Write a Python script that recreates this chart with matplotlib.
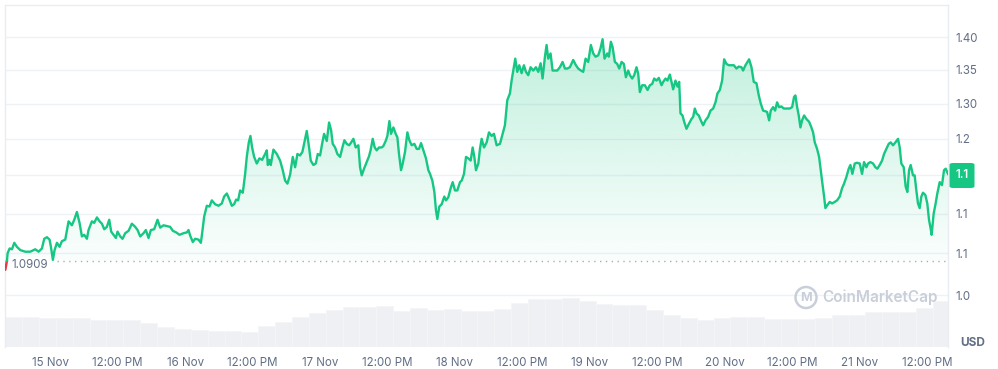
import numpy as np
import matplotlib
matplotlib.use("Agg")
import matplotlib.pyplot as plt
from matplotlib.patches import FancyBboxPatch, Circle, Polygon
from matplotlib.ticker import FixedLocator, FixedFormatter, NullLocator

# ---------------- data (hours since 15 Nov 00:00, price in USD) ----------------
hours = [
    -8.00, -7.70,
    -7.59, -7.23, -6.81, -6.40, -5.93, -5.33, -4.44, -3.56, -2.96, -2.67,
    -2.07, -1.48, -1.07, -0.59, -0.12, 0.12, 0.47, 0.77, 1.19, 1.66,
    2.07, 2.67, 3.26, 3.85, 4.27, 4.74, 5.21, 5.63, 6.04, 6.52,
    6.81, 7.41, 7.82, 8.30, 8.77, 9.19, 9.60, 10.07, 10.49, 10.84,
    11.26, 11.67, 11.97, 12.44, 12.86, 13.33, 13.93, 14.52, 15.11, 15.53,
    16.00, 16.59, 17.01, 17.48, 17.90, 18.49, 19.08, 19.56, 20.15, 20.74,
    21.33, 21.81, 22.40, 22.99, 23.70, 24.30, 24.59, 24.89, 25.36, 25.78,
    26.37, 26.79, 27.02, 27.38, 27.85, 28.33, 28.74, 29.33, 29.93, 30.52,
    30.93, 31.41, 31.88, 32.30, 32.71, 33.07, 33.42, 33.78, 34.25, 34.67,
    34.96, 35.32, 35.61, 35.91, 36.27, 36.74, 37.21, 37.69, 38.22, 38.52,
    38.70, 38.99, 39.23, 39.70, 40.30, 40.89, 41.36, 41.78, 42.19, 42.67,
    43.14, 43.56, 43.97, 44.44, 44.86, 45.21, 45.63, 46.04, 46.34, 46.81,
    47.23, 47.59, 48.00, 48.36, 48.71, 49.19, 49.60, 49.96, 50.25, 50.67,
    51.08, 51.56, 51.97, 52.33, 52.74, 53.16, 53.45, 53.93, 54.34, 54.81,
    55.11, 55.41, 55.82, 56.30, 56.71, 57.01, 57.36, 57.72, 58.07, 58.49,
    58.96, 59.26, 59.67, 59.97, 60.33, 60.62, 61.04, 61.45, 61.75, 62.04,
    62.40, 62.70, 63.11, 63.53, 63.88, 64.30, 64.77, 65.19, 65.60, 65.96,
    66.37, 66.84, 67.26, 67.56, 67.97, 68.33, 68.62, 68.86, 69.21, 69.63,
    70.10, 70.40, 70.81, 71.23, 71.59, 72.00, 72.41, 72.89, 73.19, 73.60,
    73.96, 74.37, 74.79, 75.14, 75.44, 75.73, 76.15, 76.44, 76.74, 77.16,
    77.63, 78.04, 78.52, 78.93, 79.41, 80.00,
    80.47, 80.88, 81.30, 81.77, 82.07, 82.37, 82.72, 83.08, 83.43, 83.85,
    84.26, 84.62, 85.03, 85.45, 85.92, 86.40, 86.81, 87.23, 87.58, 88.00,
    88.29, 88.59, 89.00, 89.36, 89.77, 90.19, 90.66, 91.14, 91.55, 91.97,
    92.44, 93.03, 93.51, 93.92, 94.40, 94.81, 95.23, 95.70, 96.17, 96.59,
    97.00, 97.48, 97.89, 98.25, 98.60, 99.08, 99.37, 99.73, 100.03, 100.44,
    100.86, 101.21, 101.63, 102.04, 102.40, 102.81, 103.11, 103.52, 103.88, 104.29,
    104.59, 104.88, 105.30, 105.77, 106.25, 106.66, 107.08, 107.43, 107.85, 108.26,
    108.74, 109.03, 109.45, 109.80, 110.22, 110.51, 110.81, 111.22, 111.58, 111.88,
    112.11, 112.47, 112.77, 113.18, 113.60, 114.07, 114.37, 114.66, 114.96, 115.37,
    115.73, 116.14, 116.56, 117.03, 117.45, 117.92, 118.34, 118.69, 119.11, 119.52,
    119.88, 120.29, 120.71, 121.18, 121.60, 122.07, 122.48, 122.96, 123.25, 123.67,
    124.03, 124.32, 124.74, 125.15, 125.63, 126.04, 126.40, 126.81, 127.23, 127.52,
    127.88, 128.17, 128.59, 128.94, 129.30, 129.65, 130.07, 130.48, 130.96, 131.55,
    131.97, 132.32, 132.56, 132.86, 133.15, 133.45, 133.74, 134.10, 134.51, 134.99,
    135.40, 135.70, 136.00, 136.41, 136.77, 137.06, 137.36, 137.66, 137.89, 138.25,
    138.66, 139.08, 139.55, 139.97, 140.44, 140.86, 141.21, 141.63, 142.04, 142.34,
    142.69, 143.11, 143.52, 144.00, 144.41, 144.77, 145.18, 145.48, 145.89, 146.37,
    146.78, 147.14, 147.55, 147.97, 148.32, 148.74, 149.15, 149.51, 149.92, 150.34,
    150.81, 151.11, 151.40, 151.82, 152.17, 152.47, 152.77, 153.06, 153.48, 153.77,
    154.07, 154.36, 154.66, 154.96, 155.25, 155.67, 156.02, 156.32, 156.56, 156.79,
    157.15, 157.45, 157.80, 158.22, 158.63, 158.99, 159.29, 159.70,
]

prices = [
    1.080, 1.091,
    1.100, 1.106, 1.105, 1.113, 1.108, 1.104, 1.102, 1.102, 1.104, 1.105,
    1.102, 1.106, 1.118, 1.120, 1.117, 1.108, 1.092, 1.104, 1.113, 1.108,
    1.115, 1.117, 1.140, 1.135, 1.142, 1.152, 1.138, 1.121, 1.123, 1.118,
    1.129, 1.140, 1.138, 1.145, 1.140, 1.137, 1.130, 1.133, 1.142, 1.127,
    1.123, 1.119, 1.127, 1.121, 1.118, 1.125, 1.128, 1.137, 1.133, 1.129,
    1.121, 1.125, 1.129, 1.119, 1.129, 1.130, 1.142, 1.132, 1.135, 1.134,
    1.133, 1.128, 1.126, 1.123, 1.125, 1.126, 1.129, 1.122, 1.114, 1.118,
    1.117, 1.113, 1.125, 1.146, 1.160, 1.159, 1.167, 1.162, 1.160, 1.163,
    1.172, 1.176, 1.168, 1.160, 1.162, 1.168, 1.167, 1.180, 1.177, 1.202,
    1.225, 1.245, 1.254, 1.238, 1.225, 1.216, 1.223, 1.221, 1.229, 1.234,
    1.214, 1.221, 1.214, 1.235, 1.229, 1.220, 1.207, 1.193, 1.189, 1.201,
    1.225, 1.211, 1.229, 1.227, 1.232, 1.245, 1.261, 1.238, 1.220, 1.214,
    1.216, 1.229, 1.227, 1.243, 1.257, 1.247, 1.273, 1.262, 1.243, 1.238,
    1.229, 1.225, 1.238, 1.248, 1.243, 1.241, 1.244, 1.250, 1.238, 1.241,
    1.211, 1.200, 1.209, 1.218, 1.226, 1.235, 1.250, 1.238, 1.234, 1.238,
    1.238, 1.240, 1.247, 1.254, 1.275, 1.257, 1.266, 1.257, 1.252, 1.229,
    1.207, 1.216, 1.232, 1.259, 1.248, 1.241, 1.243, 1.236, 1.236, 1.244,
    1.234, 1.223, 1.207, 1.202, 1.193, 1.178, 1.154, 1.143, 1.159, 1.162,
    1.172, 1.167, 1.171, 1.183, 1.191, 1.180, 1.180, 1.191, 1.193, 1.202,
    1.225, 1.223, 1.220, 1.238, 1.225, 1.207, 1.216, 1.236, 1.250, 1.238,
    1.245, 1.259, 1.254, 1.257, 1.241, 1.243,
    1.257, 1.269, 1.305, 1.315, 1.334, 1.349, 1.367, 1.347, 1.357, 1.345,
    1.357, 1.347, 1.342, 1.354, 1.349, 1.354, 1.347, 1.360, 1.337, 1.370,
    1.388, 1.367, 1.375, 1.349, 1.349, 1.349, 1.354, 1.362, 1.352, 1.352,
    1.354, 1.365, 1.357, 1.352, 1.349, 1.347, 1.367, 1.362, 1.388, 1.375,
    1.370, 1.372, 1.383, 1.397, 1.367, 1.375, 1.370, 1.393, 1.385, 1.362,
    1.359, 1.352, 1.362, 1.359, 1.339, 1.349, 1.342, 1.337, 1.342, 1.354,
    1.344, 1.317, 1.327, 1.327, 1.320, 1.327, 1.329, 1.337, 1.334, 1.338,
    1.327, 1.332, 1.337, 1.334, 1.343, 1.332, 1.321, 1.334, 1.325, 1.332,
    1.286, 1.283, 1.274, 1.264, 1.271, 1.278, 1.281, 1.293, 1.286, 1.283,
    1.276, 1.269, 1.276, 1.281, 1.290, 1.293, 1.302, 1.315, 1.320, 1.334,
    1.366, 1.359, 1.357, 1.357, 1.357, 1.352, 1.355, 1.354, 1.349, 1.357,
    1.362, 1.366, 1.354, 1.332, 1.330, 1.312, 1.300, 1.290, 1.289, 1.288,
    1.276, 1.290, 1.295, 1.290, 1.302, 1.295, 1.296, 1.293, 1.293, 1.293,
    1.295, 1.310, 1.312, 1.295, 1.283, 1.266, 1.276, 1.283, 1.278, 1.274,
    1.266, 1.259, 1.245, 1.236, 1.225, 1.207, 1.189, 1.172, 1.157, 1.161,
    1.165, 1.163, 1.165, 1.167, 1.172, 1.183, 1.189, 1.198, 1.209, 1.214,
    1.202, 1.216, 1.217, 1.216, 1.202, 1.218, 1.211, 1.216, 1.218, 1.216,
    1.211, 1.209, 1.214, 1.220, 1.229, 1.236, 1.243, 1.245, 1.241, 1.245,
    1.250, 1.238, 1.216, 1.211, 1.185, 1.178, 1.207, 1.214, 1.200, 1.200,
    1.180, 1.163, 1.157, 1.172, 1.177, 1.174, 1.163, 1.142, 1.133, 1.123,
    1.150, 1.161, 1.176, 1.191, 1.187, 1.207, 1.209, 1.202,
]

vol_hours = [-8, -5, -2, 1, 4, 7, 10, 13, 16, 19, 22, 25, 28, 31, 34, 37, 40, 43,
             46, 49, 52, 55, 58, 61, 64, 67, 70, 73, 76, 79, 82, 85, 88, 91, 94,
             97, 100, 103, 106, 109, 112, 115, 118, 121, 124, 127, 130, 133, 136,
             139, 142, 145, 148, 151, 154, 157]
volumes = [57.5, 57.5, 55.6, 55.6, 55.6, 52.3, 52.3, 52.3, 45.8, 39.0, 34.6, 33.0,
           30.7, 30.7, 28.0, 40.0, 48.0, 58.0, 66.0, 72.0, 76.5, 76.5, 78.4, 70.0,
           75.0, 71.0, 74.0, 68.6, 68.6, 74.0, 85.0, 91.5, 91.5, 94.8, 88.0, 83.0,
           80.0, 80.0, 72.0, 61.0, 55.6, 52.3, 55.6, 57.0, 57.0, 54.0, 54.0, 54.0,
           55.6, 62.0, 62.0, 67.3, 67.3, 67.3, 75.0, 88.0]

tick_hours = [0, 12, 24, 36, 48, 60, 72, 84, 96, 108, 120, 132, 144, 156]
tick_labels = ["15 Nov", "12:00 PM", "16 Nov", "12:00 PM", "17 Nov", "12:00 PM",
               "18 Nov", "12:00 PM", "19 Nov", "12:00 PM", "20 Nov", "12:00 PM",
               "21 Nov", "12:00 PM"]
y_ticks = [1.05, 1.10, 1.15, 1.20, 1.25, 1.30, 1.35, 1.40]
y_labels = ["1.0", "1.1", "1.1", "", "1.2", "1.30", "1.35", "1.40"]
baseline = 1.0909
badge_text = "1.1"

assert len(hours) == len(prices)
assert len(vol_hours) == len(volumes)

# ---------------- styling ----------------
GREEN = "#16c784"
RED = "#ea3943"
TXT = "#616e85"
GRID = "#eff2f5"
plt.rcParams["font.family"] = ["Inter", "DejaVu Sans"]

W, H = 998, 369
fig = plt.figure(figsize=(W / 100, H / 100), dpi=100)
fig.patch.set_facecolor("white")


def fx(x):
    return x / W


def fy(y):
    return 1 - y / H


L, R, T, B = 5, 948, 4.5, 347
ax = fig.add_axes([fx(L), fy(B), fx(R) - fx(L), fy(T) - fy(B)])
ax.set_yscale("log")
xmin, xmax = -8.05, 159.7
ymin, ymax = 0.9908, 1.4522
ax.set_xlim(xmin, xmax)
ax.set_ylim(ymin, ymax)

# volume on its own overlay axis
axv = ax.twinx()
axv.set_ylim(0, 659)
axv.bar(vol_hours, volumes, width=3.0, align="edge", color="#eef0f3",
        edgecolor="#f4f5f7", linewidth=0.6, zorder=1)
axv.set_xlim(xmin, xmax)
axv.axis("off")
ax.set_zorder(axv.get_zorder() + 1)
ax.patch.set_visible(False)

# grid
ax.yaxis.set_major_locator(FixedLocator(y_ticks))
ax.yaxis.set_major_formatter(FixedFormatter(y_labels))
ax.yaxis.set_minor_locator(NullLocator())
ax.grid(axis="y", color=GRID, linewidth=1.0, zorder=0)
ax.set_axisbelow(True)

# gradient fill under the price line
h = np.array(hours)
p = np.array(prices)
poly_xy = np.column_stack([np.r_[h, h[-1], h[0]], np.r_[p, baseline, baseline]])
poly = Polygon(poly_xy, closed=True, transform=ax.transData, facecolor="none",
               edgecolor="none")
ax.add_patch(poly)
fig.canvas.draw()
to_axes = ax.transAxes.inverted()
yb = to_axes.transform(ax.transData.transform((0, baseline)))[1]
yt = to_axes.transform(ax.transData.transform((0, 1.40)))[1]
n = 256
rgba = np.zeros((n, 1, 4))
rgba[..., 0] = 22 / 255
rgba[..., 1] = 199 / 255
rgba[..., 2] = 132 / 255
rgba[:, 0, 3] = np.linspace(0.27, 0.02, n)
im = ax.imshow(rgba, extent=[0, 1, yb, yt], transform=ax.transAxes,
               aspect="auto", zorder=2, interpolation="bilinear")
im.set_clip_path(poly)

# baseline (dotted)
ax.axhline(baseline, xmin=0.055, xmax=1, color="#a5adbd", linewidth=1.0,
           linestyle=(0, (1, 3.2)), zorder=3)

# price line: red part below baseline, green part above
ax.plot(hours[:2], prices[:2], color=RED, linewidth=1.8, zorder=4,
        solid_capstyle="round")
ax.plot(hours[1:], prices[1:], color=GREEN, linewidth=1.7, zorder=4,
        solid_joinstyle="round")

# axes decoration
ax.set_xticks(tick_hours)
ax.set_xticklabels(tick_labels)
ax.yaxis.tick_right()
ax.tick_params(axis="x", length=0, pad=7, labelsize=8.3, labelcolor=TXT)
ax.tick_params(axis="y", which="both", length=0, pad=5, labelsize=8.3,
               labelcolor=TXT)
for side in ["top", "left", "right"]:
    ax.spines[side].set_color("#e9ecf0")
    ax.spines[side].set_linewidth(1.0)
ax.spines["bottom"].set_visible(False)

# baseline label
fig.text(fx(11), fy(264.5), "1.0909", ha="left", va="center", fontsize=8.3,
         color=TXT, bbox=dict(boxstyle="square,pad=0.15", fc="white", ec="none"))

# current-price badge
badge = FancyBboxPatch((fx(949.5), fy(188)), fx(25), 25 / H,
                       boxstyle="round,pad=0,rounding_size=0.004",
                       transform=fig.transFigure, facecolor=GREEN,
                       edgecolor="none", zorder=5)
fig.add_artist(badge)
fig.text(fx(962), fy(175.5), badge_text, ha="center", va="center",
         fontsize=8.3, color="white", fontweight="semibold", zorder=6)

# currency label
fig.text(fx(973), fy(343), "USD", ha="center", va="center", fontsize=8.5,
         color=TXT, fontweight="bold")

# watermark
WM = "#c9cfda"
circ = Circle((fx(806), fy(297.5)), 10.5 / H, transform=fig.transFigure,
              facecolor="none", edgecolor=WM, linewidth=1.8, zorder=5)
# keep circle round: use an ellipse-free approach by scaling via aspect
from matplotlib.patches import Ellipse
circ = Ellipse((fx(806), fy(297.5)), 21 / W, 21 / H, transform=fig.transFigure,
               facecolor="none", edgecolor=WM, linewidth=1.8, zorder=5)
fig.add_artist(circ)
fig.text(fx(806), fy(298), "M", ha="center", va="center", fontsize=9,
         color=WM, fontweight="bold", zorder=5)
fig.text(fx(822), fy(297.5), "CoinMarketCap", ha="left", va="center",
         fontsize=11, color=WM, fontweight="semibold", zorder=5)

fig.savefig("out.png", dpi=100, facecolor="white")
